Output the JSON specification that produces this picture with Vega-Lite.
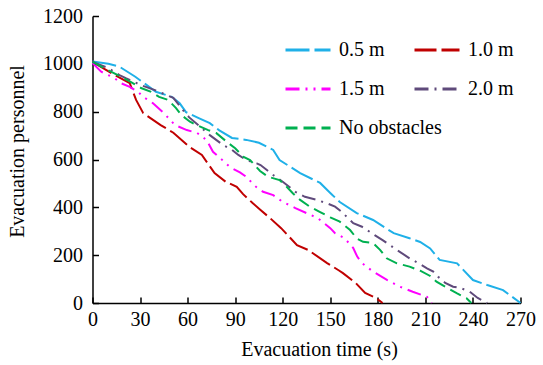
{
  "$schema": "https://vega.github.io/schema/vega-lite/v6.json",
  "width": 428,
  "height": 287,
  "autosize": {"type": "none"},
  "padding": {"left": 92.5, "top": 16, "right": 23, "bottom": 62},
  "background": "white",
  "config": {
    "view": {"stroke": null},
    "font": "Liberation Serif",
    "axis": {
      "labelFont": "Liberation Serif",
      "titleFont": "Liberation Serif",
      "labelFontSize": 20,
      "titleFontSize": 20,
      "titleFontWeight": "normal",
      "labelColor": "black",
      "titleColor": "black",
      "domainColor": "black",
      "domainWidth": 1.5,
      "tickColor": "black",
      "tickWidth": 1.5,
      "tickSize": -6,
      "grid": false
    },
    "legend": {
      "labelFont": "Liberation Serif",
      "labelFontSize": 20,
      "labelColor": "black"
    }
  },
  "data": {
    "values": [
      {"s": "0.5 m", "t": 0, "v": 1010}, {"s": "0.5 m", "t": 10, "v": 1000}, {"s": "0.5 m", "t": 17, "v": 988}, {"s": "0.5 m", "t": 27, "v": 946}, {"s": "0.5 m", "t": 40, "v": 883}, {"s": "0.5 m", "t": 50, "v": 862}, {"s": "0.5 m", "t": 55, "v": 835}, {"s": "0.5 m", "t": 59, "v": 798}, {"s": "0.5 m", "t": 67, "v": 773}, {"s": "0.5 m", "t": 74, "v": 752}, {"s": "0.5 m", "t": 80, "v": 722}, {"s": "0.5 m", "t": 88, "v": 690}, {"s": "0.5 m", "t": 97, "v": 682}, {"s": "0.5 m", "t": 105, "v": 670}, {"s": "0.5 m", "t": 114, "v": 640}, {"s": "0.5 m", "t": 118, "v": 598}, {"s": "0.5 m", "t": 131, "v": 543}, {"s": "0.5 m", "t": 143.6, "v": 502}, {"s": "0.5 m", "t": 150, "v": 460}, {"s": "0.5 m", "t": 156, "v": 422}, {"s": "0.5 m", "t": 166.7, "v": 376}, {"s": "0.5 m", "t": 177, "v": 347}, {"s": "0.5 m", "t": 190, "v": 292}, {"s": "0.5 m", "t": 200, "v": 271}, {"s": "0.5 m", "t": 206.7, "v": 255}, {"s": "0.5 m", "t": 213, "v": 228}, {"s": "0.5 m", "t": 219, "v": 180}, {"s": "0.5 m", "t": 230, "v": 166}, {"s": "0.5 m", "t": 240, "v": 96}, {"s": "0.5 m", "t": 249, "v": 75}, {"s": "0.5 m", "t": 259, "v": 54}, {"s": "0.5 m", "t": 270, "v": 0},
      {"s": "1.0 m", "t": 0, "v": 1008}, {"s": "1.0 m", "t": 12, "v": 961}, {"s": "1.0 m", "t": 20, "v": 932}, {"s": "1.0 m", "t": 23.5, "v": 919}, {"s": "1.0 m", "t": 27.5, "v": 849}, {"s": "1.0 m", "t": 32, "v": 794}, {"s": "1.0 m", "t": 43, "v": 744}, {"s": "1.0 m", "t": 51, "v": 712}, {"s": "1.0 m", "t": 61, "v": 653}, {"s": "1.0 m", "t": 69, "v": 619}, {"s": "1.0 m", "t": 77, "v": 543}, {"s": "1.0 m", "t": 84, "v": 507}, {"s": "1.0 m", "t": 91, "v": 486}, {"s": "1.0 m", "t": 95, "v": 455}, {"s": "1.0 m", "t": 101, "v": 418}, {"s": "1.0 m", "t": 106, "v": 389}, {"s": "1.0 m", "t": 112, "v": 355}, {"s": "1.0 m", "t": 119, "v": 313}, {"s": "1.0 m", "t": 129, "v": 242}, {"s": "1.0 m", "t": 136, "v": 222}, {"s": "1.0 m", "t": 148, "v": 167}, {"s": "1.0 m", "t": 155, "v": 138}, {"s": "1.0 m", "t": 158, "v": 125}, {"s": "1.0 m", "t": 166, "v": 84}, {"s": "1.0 m", "t": 172, "v": 42}, {"s": "1.0 m", "t": 179, "v": 20}, {"s": "1.0 m", "t": 183, "v": 0},
      {"s": "1.5 m", "t": 0, "v": 1003}, {"s": "1.5 m", "t": 5.5, "v": 967}, {"s": "1.5 m", "t": 14, "v": 940}, {"s": "1.5 m", "t": 18, "v": 919}, {"s": "1.5 m", "t": 23.5, "v": 904}, {"s": "1.5 m", "t": 28.7, "v": 883}, {"s": "1.5 m", "t": 32, "v": 862}, {"s": "1.5 m", "t": 38, "v": 836}, {"s": "1.5 m", "t": 45, "v": 794}, {"s": "1.5 m", "t": 52, "v": 744}, {"s": "1.5 m", "t": 59.5, "v": 723}, {"s": "1.5 m", "t": 66, "v": 711}, {"s": "1.5 m", "t": 72, "v": 681}, {"s": "1.5 m", "t": 76, "v": 632}, {"s": "1.5 m", "t": 80.5, "v": 606}, {"s": "1.5 m", "t": 87, "v": 567}, {"s": "1.5 m", "t": 93, "v": 546}, {"s": "1.5 m", "t": 98, "v": 523}, {"s": "1.5 m", "t": 100.5, "v": 502}, {"s": "1.5 m", "t": 104, "v": 481}, {"s": "1.5 m", "t": 107.6, "v": 465}, {"s": "1.5 m", "t": 114, "v": 451}, {"s": "1.5 m", "t": 120, "v": 423}, {"s": "1.5 m", "t": 128, "v": 397}, {"s": "1.5 m", "t": 135, "v": 376}, {"s": "1.5 m", "t": 142, "v": 355}, {"s": "1.5 m", "t": 146, "v": 334}, {"s": "1.5 m", "t": 150, "v": 313}, {"s": "1.5 m", "t": 153, "v": 292}, {"s": "1.5 m", "t": 159, "v": 271}, {"s": "1.5 m", "t": 164.5, "v": 230}, {"s": "1.5 m", "t": 167, "v": 194}, {"s": "1.5 m", "t": 170, "v": 167}, {"s": "1.5 m", "t": 177, "v": 131}, {"s": "1.5 m", "t": 186, "v": 96}, {"s": "1.5 m", "t": 194, "v": 68}, {"s": "1.5 m", "t": 202, "v": 47}, {"s": "1.5 m", "t": 211, "v": 26}, {"s": "1.5 m", "t": 214, "v": 0},
      {"s": "2.0 m", "t": 0, "v": 1008}, {"s": "2.0 m", "t": 10, "v": 982}, {"s": "2.0 m", "t": 17, "v": 953}, {"s": "2.0 m", "t": 21, "v": 940}, {"s": "2.0 m", "t": 30.6, "v": 911}, {"s": "2.0 m", "t": 39.4, "v": 890}, {"s": "2.0 m", "t": 46.5, "v": 870}, {"s": "2.0 m", "t": 51, "v": 858}, {"s": "2.0 m", "t": 57, "v": 807}, {"s": "2.0 m", "t": 61, "v": 776}, {"s": "2.0 m", "t": 69, "v": 731}, {"s": "2.0 m", "t": 74, "v": 702}, {"s": "2.0 m", "t": 82.5, "v": 660}, {"s": "2.0 m", "t": 88, "v": 640}, {"s": "2.0 m", "t": 92, "v": 619}, {"s": "2.0 m", "t": 97, "v": 598}, {"s": "2.0 m", "t": 103.6, "v": 584}, {"s": "2.0 m", "t": 106, "v": 577}, {"s": "2.0 m", "t": 110, "v": 556}, {"s": "2.0 m", "t": 114, "v": 535}, {"s": "2.0 m", "t": 120, "v": 507}, {"s": "2.0 m", "t": 128, "v": 465}, {"s": "2.0 m", "t": 134, "v": 444}, {"s": "2.0 m", "t": 141.5, "v": 431}, {"s": "2.0 m", "t": 147.8, "v": 417}, {"s": "2.0 m", "t": 153, "v": 403}, {"s": "2.0 m", "t": 157, "v": 382}, {"s": "2.0 m", "t": 164.5, "v": 334}, {"s": "2.0 m", "t": 170, "v": 319}, {"s": "2.0 m", "t": 178, "v": 284}, {"s": "2.0 m", "t": 183, "v": 263}, {"s": "2.0 m", "t": 192, "v": 222}, {"s": "2.0 m", "t": 200, "v": 187}, {"s": "2.0 m", "t": 206.7, "v": 162}, {"s": "2.0 m", "t": 211, "v": 145}, {"s": "2.0 m", "t": 215, "v": 131}, {"s": "2.0 m", "t": 218, "v": 110}, {"s": "2.0 m", "t": 222.5, "v": 84}, {"s": "2.0 m", "t": 227.5, "v": 68}, {"s": "2.0 m", "t": 232, "v": 63}, {"s": "2.0 m", "t": 238, "v": 47}, {"s": "2.0 m", "t": 243, "v": 21}, {"s": "2.0 m", "t": 249, "v": 0},
      {"s": "No obstacles", "t": 0, "v": 1008}, {"s": "No obstacles", "t": 7.7, "v": 981}, {"s": "No obstacles", "t": 16, "v": 953}, {"s": "No obstacles", "t": 24, "v": 925}, {"s": "No obstacles", "t": 30.6, "v": 899}, {"s": "No obstacles", "t": 37, "v": 883}, {"s": "No obstacles", "t": 42, "v": 862}, {"s": "No obstacles", "t": 47.7, "v": 849}, {"s": "No obstacles", "t": 52.7, "v": 815}, {"s": "No obstacles", "t": 56, "v": 786}, {"s": "No obstacles", "t": 61.5, "v": 758}, {"s": "No obstacles", "t": 65.7, "v": 744}, {"s": "No obstacles", "t": 73, "v": 723}, {"s": "No obstacles", "t": 78, "v": 711}, {"s": "No obstacles", "t": 84.7, "v": 674}, {"s": "No obstacles", "t": 90, "v": 647}, {"s": "No obstacles", "t": 95, "v": 612}, {"s": "No obstacles", "t": 99.4, "v": 598}, {"s": "No obstacles", "t": 105.7, "v": 552}, {"s": "No obstacles", "t": 110.7, "v": 528}, {"s": "No obstacles", "t": 118, "v": 514}, {"s": "No obstacles", "t": 122.5, "v": 486}, {"s": "No obstacles", "t": 126.5, "v": 458}, {"s": "No obstacles", "t": 131, "v": 431}, {"s": "No obstacles", "t": 137, "v": 403}, {"s": "No obstacles", "t": 143.6, "v": 380}, {"s": "No obstacles", "t": 150, "v": 358}, {"s": "No obstacles", "t": 156, "v": 340}, {"s": "No obstacles", "t": 162.5, "v": 305}, {"s": "No obstacles", "t": 166.7, "v": 270}, {"s": "No obstacles", "t": 170.7, "v": 256}, {"s": "No obstacles", "t": 177, "v": 251}, {"s": "No obstacles", "t": 181.4, "v": 222}, {"s": "No obstacles", "t": 185.6, "v": 187}, {"s": "No obstacles", "t": 192, "v": 166}, {"s": "No obstacles", "t": 200, "v": 152}, {"s": "No obstacles", "t": 206.7, "v": 135}, {"s": "No obstacles", "t": 213, "v": 113}, {"s": "No obstacles", "t": 217, "v": 89}, {"s": "No obstacles", "t": 222.5, "v": 68}, {"s": "No obstacles", "t": 230, "v": 40}, {"s": "No obstacles", "t": 236, "v": 20}, {"s": "No obstacles", "t": 239, "v": 0}
    ]
  },
  "mark": {"type": "line", "strokeWidth": 2},
  "encoding": {
    "x": {
      "field": "t", "type": "quantitative",
      "scale": {"domain": [0, 270], "nice": false, "zero": false},
      "axis": {
        "title": "Evacuation time (s)",
        "values": [0, 30, 60, 90, 120, 150, 180, 210, 240, 270],
        "format": "d",
        "labelPadding": 12,
        "labelFlush": false,
        "titleX": 226.5, "titleY": 52.5, "titleAlign": "center", "titleBaseline": "alphabetic"
      }
    },
    "y": {
      "field": "v", "type": "quantitative",
      "scale": {"domain": [0, 1200], "nice": false},
      "axis": {
        "title": "Evacuation personnel",
        "values": [0, 200, 400, 600, 800, 1000, 1200],
        "format": "d",
        "labelPadding": 16,
        "labelFlush": false,
        "titleX": -75, "titleY": 135, "titleAngle": -90, "titleAlign": "center", "titleBaseline": "middle"
      }
    },
    "color": {
      "field": "s", "type": "nominal",
      "scale": {
        "domain": ["0.5 m", "1.0 m", "1.5 m", "2.0 m", "No obstacles"],
        "range": ["#1fb0e8", "#c00000", "#ff00ff", "#5f4a7b", "#00b050"]
      },
      "legend": {
        "title": null,
        "orient": "none",
        "direction": "horizontal",
        "legendX": 191.5,
        "legendY": 10,
        "columns": 2,
        "gridAlign": "none",
        "columnPadding": -34,
        "rowPadding": 5,
        "symbolType": "stroke",
        "symbolSize": 2025,
        "symbolStrokeWidth": 3,
        "labelOffset": 7,
        "labelLimit": 300
      }
    },
    "strokeDash": {
      "field": "s", "type": "nominal",
      "scale": {
        "domain": ["0.5 m", "1.0 m", "1.5 m", "2.0 m", "No obstacles"],
        "range": [[24, 5], [22, 5], [14, 6, 2, 6, 2, 6], [14, 6, 2, 6], [12, 6]]
      },
      "legend": null
    }
  }
}
